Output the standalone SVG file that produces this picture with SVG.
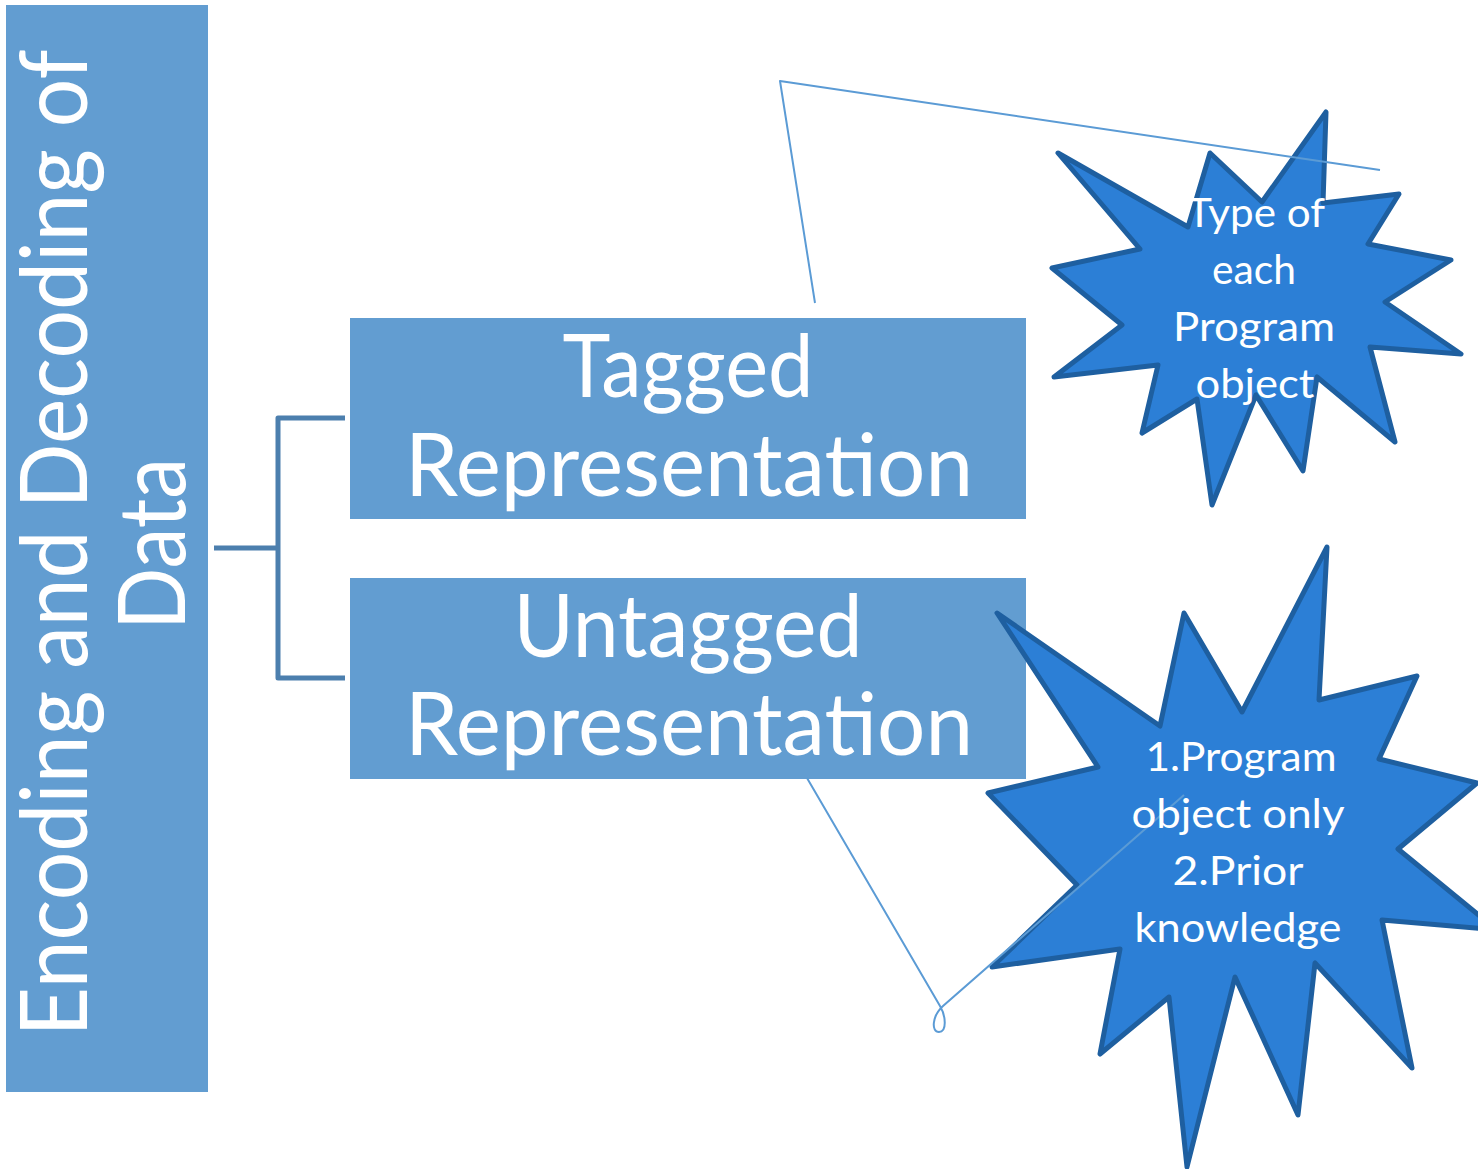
<svg xmlns="http://www.w3.org/2000/svg" width="1478" height="1169" viewBox="0 0 1478 1169">
  <style>
    .box { fill: #629dd1; }
    .boxtxt { fill: #ffffff; font-family: "Lato", "Open Sans", "Liberation Sans", sans-serif; text-anchor: middle; }
    .star { fill: #2c7fd6; stroke: #1e5fa0; stroke-width: 5; stroke-linejoin: round; }
    .startxt { fill: #ffffff; font-family: "Lato", "Open Sans", "Liberation Sans", sans-serif; font-size: 41px; text-anchor: middle; }
    .bracket { fill: none; stroke: #4c7fae; stroke-width: 5; stroke-linejoin: round; }
    .callout { fill: none; stroke: #5b9bd5; stroke-width: 2; stroke-linejoin: round; }
  </style>

  <rect width="1478" height="1169" fill="#ffffff"/>

  <!-- root: vertical title bar -->
  <g id="node-root">
    <rect class="box" x="6" y="5" width="202" height="1087"/>
    <text class="boxtxt" font-size="93" transform="translate(87,543) rotate(-90)" textLength="987" lengthAdjust="spacingAndGlyphs">Encoding and Decoding of</text>
    <text class="boxtxt" font-size="93" transform="translate(185,544) rotate(-90)" textLength="172" lengthAdjust="spacingAndGlyphs">Data</text>
  </g>

  <!-- tree bracket -->
  <g id="connectors">
    <path class="bracket" d="M214 548 H278 M345 418 H278 V678 H345"/>
  </g>

  <g id="node-tagged">
    <rect class="box" x="350" y="318" width="676" height="201"/>
    <text class="boxtxt" font-size="88" x="688" y="397" textLength="251" lengthAdjust="spacingAndGlyphs">Tagged</text>
    <text class="boxtxt" font-size="88" x="689" y="496" textLength="568" lengthAdjust="spacingAndGlyphs">Representation</text>
  </g>

  <g id="node-untagged">
    <rect class="box" x="350" y="578" width="676" height="201"/>
    <text class="boxtxt" font-size="88" x="688" y="657" textLength="349" lengthAdjust="spacingAndGlyphs">Untagged</text>
    <text class="boxtxt" font-size="88" x="689" y="755" textLength="568" lengthAdjust="spacingAndGlyphs">Representation</text>
  </g>

  <!-- burst callout for the tagged case -->
  <g id="note-tagged">
    <polygon class="star" points="1058,153 1188,227 1210,153 1262,202 1326,112 1323,203 1399,194 1368,244 1451,260 1385,302 1461,354 1370,347 1395,442 1317,377 1303,471 1256,395 1212,505 1197,399 1142,433 1158,365 1054,377 1122,325 1052,268 1140,249"/>
    <path class="callout" d="M815 303 L780 81 L1380 170"/>
    <text class="startxt" x="1256" y="227" textLength="138" lengthAdjust="spacingAndGlyphs">Type of</text>
    <text class="startxt" x="1254" y="284" textLength="84" lengthAdjust="spacingAndGlyphs">each</text>
    <text class="startxt" x="1254" y="341" textLength="162" lengthAdjust="spacingAndGlyphs">Program</text>
    <text class="startxt" x="1255" y="398" textLength="119" lengthAdjust="spacingAndGlyphs">object</text>
  </g>

  <!-- burst callout for the untagged case -->
  <g id="note-untagged">
    <polygon class="star" points="997,613 1160,726 1184,613 1242,712 1327,547 1319,700 1417,676 1379,759 1477,783 1398,849 1497,930 1382,920 1412,1068 1315,963 1298,1115 1235,977 1187,1167 1169,997 1100,1054 1120,949 992,967 1077,885 988,793 1098,767"/>
    <path class="callout" d="M807 778 L940 1006 C946 1016 947 1032 939 1032 C931 1032 932 1016 943 1006 L1184 795"/>
    <text class="startxt" x="1241" y="771" textLength="191" lengthAdjust="spacingAndGlyphs">1.Program</text>
    <text class="startxt" x="1238" y="828" textLength="213" lengthAdjust="spacingAndGlyphs">object only</text>
    <text class="startxt" x="1238" y="885" textLength="131" lengthAdjust="spacingAndGlyphs">2.Prior</text>
    <text class="startxt" x="1238" y="942" textLength="207" lengthAdjust="spacingAndGlyphs">knowledge</text>
  </g>
</svg>
